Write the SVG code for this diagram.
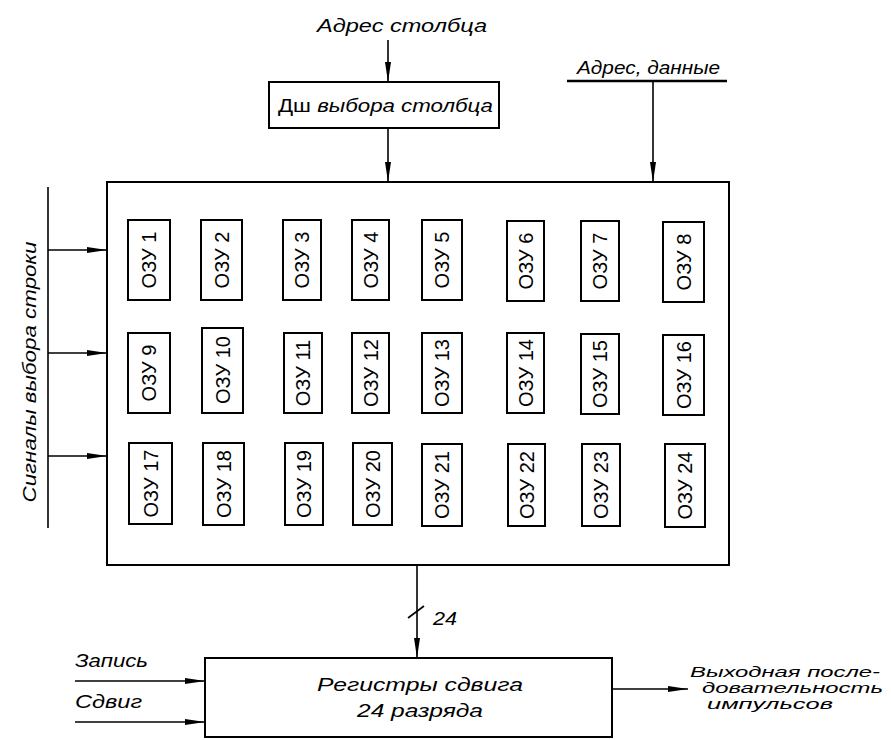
<svg xmlns="http://www.w3.org/2000/svg" width="891" height="740" viewBox="0 0 891 740">
<style>
  .box { fill: #fff; stroke: #000; stroke-width: 2; }
  .ln { stroke: #000; stroke-width: 1.6; fill: none; }
  .lbl { font-family: "Liberation Sans", Arial, sans-serif; font-style: italic; font-size: 18px; fill: #000; }
  .out { font-family: "Liberation Sans", Arial, sans-serif; font-style: italic; font-size: 15px; fill: #000; }
  .oz { font-family: "Liberation Sans", Arial, sans-serif; font-size: 20px; fill: #000; text-anchor: middle; }
</style>
<defs>
  <marker id="ah" markerUnits="userSpaceOnUse" markerWidth="22" markerHeight="10" refX="20" refY="4" orient="auto">
    <path d="M0,1 L20,4 L0,7 Z" fill="#000"/>
  </marker>
</defs>
<rect width="891" height="740" fill="#fff"/>

<g id="connectors">
  <line class="ln" x1="388" y1="40" x2="388" y2="82" marker-end="url(#ah)"/>
  <line class="ln" x1="388" y1="128" x2="388" y2="182" marker-end="url(#ah)"/>
  <line x1="567" y1="81" x2="727" y2="81" stroke="#000" stroke-width="2.6"/>
  <line class="ln" x1="653" y1="81" x2="653" y2="182" marker-end="url(#ah)"/>
  <line class="ln" x1="48" y1="187" x2="48" y2="528" stroke-width="2"/>
  <line class="ln" x1="48" y1="250" x2="107" y2="250" marker-end="url(#ah)"/>
  <line class="ln" x1="48" y1="353" x2="107" y2="353" marker-end="url(#ah)"/>
  <line class="ln" x1="48" y1="456" x2="107" y2="456" marker-end="url(#ah)"/>
  <line class="ln" x1="417" y1="565" x2="417" y2="658" marker-end="url(#ah)"/>
  <line class="ln" x1="408" y1="618" x2="424" y2="606"/>
  <line class="ln" x1="75" y1="681" x2="205" y2="681" marker-end="url(#ah)"/>
  <line class="ln" x1="75" y1="722" x2="205" y2="722" marker-end="url(#ah)"/>
  <line class="ln" x1="612" y1="689" x2="688" y2="689" marker-end="url(#ah)"/>
</g>

<g id="labels">
  <text class="lbl" x="317" y="32" textLength="170" lengthAdjust="spacingAndGlyphs">Адрес столбца</text>
  <text class="lbl" x="577" y="74" textLength="143" lengthAdjust="spacingAndGlyphs">Адрес, данные</text>
  <text class="lbl" transform="translate(36,372) rotate(-90)" x="0" y="0" text-anchor="middle" textLength="261" lengthAdjust="spacingAndGlyphs">Сигналы выбора строки</text>
  <text class="lbl" x="433" y="625" font-style="normal" textLength="24" lengthAdjust="spacingAndGlyphs">24</text>
  <text class="lbl" x="75" y="667" textLength="73" lengthAdjust="spacingAndGlyphs">Запись</text>
  <text class="lbl" x="75" y="708" textLength="67" lengthAdjust="spacingAndGlyphs">Сдвиг</text>
  <text class="out" x="690" y="677" textLength="190" lengthAdjust="spacingAndGlyphs">Выходная после-</text>
  <text class="out" x="702" y="693" textLength="181" lengthAdjust="spacingAndGlyphs">довательность</text>
  <text class="out" x="707" y="709" textLength="126" lengthAdjust="spacingAndGlyphs">импульсов</text>
</g>

<g id="decoder">
  <rect class="box" x="269" y="82" width="230" height="46"/>
  <text class="lbl" x="278" y="112" textLength="215" lengthAdjust="spacingAndGlyphs"><tspan font-style="normal">Дш</tspan> выбора столбца</text>
</g>

<g id="memory-array">
  <rect class="box" x="107" y="182" width="622" height="383"/>
</g>

<g id="ozu-1"><rect class="box" x="128" y="220" width="42" height="80"/><text class="oz" transform="translate(149,260) rotate(-90)" y="7">ОЗУ 1</text></g>
<g id="ozu-2"><rect class="box" x="201" y="220" width="41" height="80"/><text class="oz" transform="translate(221.5,260) rotate(-90)" y="7">ОЗУ 2</text></g>
<g id="ozu-3"><rect class="box" x="283" y="220" width="38" height="80"/><text class="oz" transform="translate(302,260) rotate(-90)" y="7">ОЗУ 3</text></g>
<g id="ozu-4"><rect class="box" x="352" y="220" width="37" height="80"/><text class="oz" transform="translate(370.5,260) rotate(-90)" y="7">ОЗУ 4</text></g>
<g id="ozu-5"><rect class="box" x="422" y="220" width="40" height="80"/><text class="oz" transform="translate(442,260) rotate(-90)" y="7">ОЗУ 5</text></g>
<g id="ozu-6"><rect class="box" x="507" y="221" width="37" height="80"/><text class="oz" transform="translate(525.5,261) rotate(-90)" y="7">ОЗУ 6</text></g>
<g id="ozu-7"><rect class="box" x="581" y="221" width="38" height="80"/><text class="oz" transform="translate(600,261) rotate(-90)" y="7">ОЗУ 7</text></g>
<g id="ozu-8"><rect class="box" x="663" y="222" width="41" height="80"/><text class="oz" transform="translate(683.5,262) rotate(-90)" y="7">ОЗУ 8</text></g>

<g id="ozu-9"><rect class="box" x="128" y="333" width="42" height="80"/><text class="oz" transform="translate(149,373) rotate(-90)" y="7">ОЗУ 9</text></g>
<g id="ozu-10"><rect class="box" x="202" y="328" width="41" height="85"/><text class="oz" transform="translate(222.5,370) rotate(-90)" y="7">ОЗУ 10</text></g>
<g id="ozu-11"><rect class="box" x="284" y="333" width="38" height="80"/><text class="oz" transform="translate(303,373) rotate(-90)" y="7">ОЗУ 11</text></g>
<g id="ozu-12"><rect class="box" x="352" y="333" width="37" height="80"/><text class="oz" transform="translate(370.5,373) rotate(-90)" y="7">ОЗУ 12</text></g>
<g id="ozu-13"><rect class="box" x="422" y="333" width="40" height="80"/><text class="oz" transform="translate(442,373) rotate(-90)" y="7">ОЗУ 13</text></g>
<g id="ozu-14"><rect class="box" x="507" y="333" width="37" height="80"/><text class="oz" transform="translate(525.5,373) rotate(-90)" y="7">ОЗУ 14</text></g>
<g id="ozu-15"><rect class="box" x="581" y="334" width="38" height="80"/><text class="oz" transform="translate(600,374) rotate(-90)" y="7">ОЗУ 15</text></g>
<g id="ozu-16"><rect class="box" x="663" y="335" width="41" height="80"/><text class="oz" transform="translate(683.5,375) rotate(-90)" y="7">ОЗУ 16</text></g>

<g id="ozu-17"><rect class="box" x="129" y="443" width="43" height="81"/><text class="oz" transform="translate(150.5,483.5) rotate(-90)" y="7">ОЗУ 17</text></g>
<g id="ozu-18"><rect class="box" x="203" y="443" width="41" height="82"/><text class="oz" transform="translate(223.5,484) rotate(-90)" y="7">ОЗУ 18</text></g>
<g id="ozu-19"><rect class="box" x="285" y="443" width="38" height="82"/><text class="oz" transform="translate(304,484) rotate(-90)" y="7">ОЗУ 19</text></g>
<g id="ozu-20"><rect class="box" x="353" y="443" width="39" height="82"/><text class="oz" transform="translate(372.5,484) rotate(-90)" y="7">ОЗУ 20</text></g>
<g id="ozu-21"><rect class="box" x="422" y="444" width="40" height="82"/><text class="oz" transform="translate(442,485) rotate(-90)" y="7">ОЗУ 21</text></g>
<g id="ozu-22"><rect class="box" x="508" y="444" width="37" height="82"/><text class="oz" transform="translate(526.5,485) rotate(-90)" y="7">ОЗУ 22</text></g>
<g id="ozu-23"><rect class="box" x="582" y="444" width="38" height="82"/><text class="oz" transform="translate(601,485) rotate(-90)" y="7">ОЗУ 23</text></g>
<g id="ozu-24"><rect class="box" x="665" y="444" width="40" height="83"/><text class="oz" transform="translate(685,485.5) rotate(-90)" y="7">ОЗУ 24</text></g>

<g id="shift-register">
  <rect class="box" x="205" y="658" width="407" height="79"/>
  <text class="lbl" x="317" y="691" textLength="206" lengthAdjust="spacingAndGlyphs">Регистры сдвига</text>
  <text class="lbl" x="357" y="717" textLength="126" lengthAdjust="spacingAndGlyphs">24 разряда</text>
</g>
</svg>
